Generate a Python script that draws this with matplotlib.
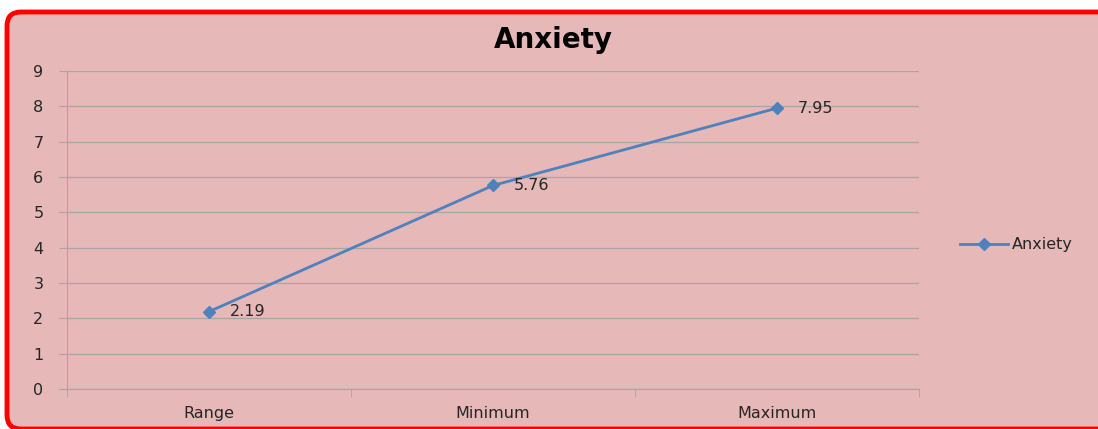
import matplotlib.pyplot as plt
from matplotlib.patches import FancyBboxPatch
from matplotlib.transforms import IdentityTransform

# Datos del gráfico
categorias = ["Range", "Minimum", "Maximum"]
valores = [2.19, 5.76, 7.95]
etiquetas = ["2.19", "5.76", "7.95"]
serie = "Anxiety"

fondo = "#E6B8B7"
azul = "#4F81BD"
gris = "#A6A6A6"
texto = "#262626"

fig = plt.figure(figsize=(10.98, 4.29), dpi=100, facecolor="white")

# Marco rojo redondeado (en píxeles)
marco = FancyBboxPatch((7, 0), 1110, 417, boxstyle="round,pad=0,rounding_size=14",
                       transform=IdentityTransform(), facecolor=fondo,
                       edgecolor="#FF0000", linewidth=3.5, zorder=0)
fig.patches.append(marco)

ax = fig.add_axes([67 / 1098, 1 - 389 / 429, 852 / 1098, 318 / 429])
ax.set_facecolor("none")
ax.set_zorder(2)

x = list(range(len(categorias)))
ax.plot(x, valores, color=azul, linewidth=2, marker="D", markersize=6, label=serie)

# Etiquetas de datos a la derecha de cada punto
for xi, v, t in zip(x, valores, etiquetas):
    ax.annotate(t, (xi, v), xytext=(15, 0), textcoords="offset points",
                va="center", ha="left", fontsize=11.5, color=texto)

ax.set_xlim(-0.5, 2.5)
ax.set_ylim(0, 9)
ax.set_yticks(range(10))
ax.set_xticks(x)
ax.set_xticklabels(categorias, fontsize=11.5, color=texto)
ax.set_xticks([-0.5, 0.5, 1.5, 2.5], minor=True)
ax.tick_params(axis="x", which="major", length=0, pad=12)
ax.tick_params(axis="x", which="minor", length=6, color=gris, direction="out")
ax.tick_params(axis="y", length=6, color=gris, labelsize=11.5, labelcolor=texto, pad=11)
ax.grid(axis="y", color=gris, linewidth=0.9)
ax.set_axisbelow(True)

for lado in ["top", "right"]:
    ax.spines[lado].set_visible(False)
ax.spines["left"].set_color(gris)
ax.spines["bottom"].set_color(gris)

fig.text(553 / 1098, 1 - 40 / 429, "Anxiety", ha="center", va="center",
         fontsize=20, fontweight="bold", color="black", zorder=3)

leg = fig.legend(loc="center left", bbox_to_anchor=(946 / 1098, 1 - 245 / 429), frameon=False,
                 fontsize=11.5, handlelength=3.0, handletextpad=0.2, labelcolor=texto)
leg.set_zorder(3)

plt.savefig("out.png", dpi=100)
plt.close()
